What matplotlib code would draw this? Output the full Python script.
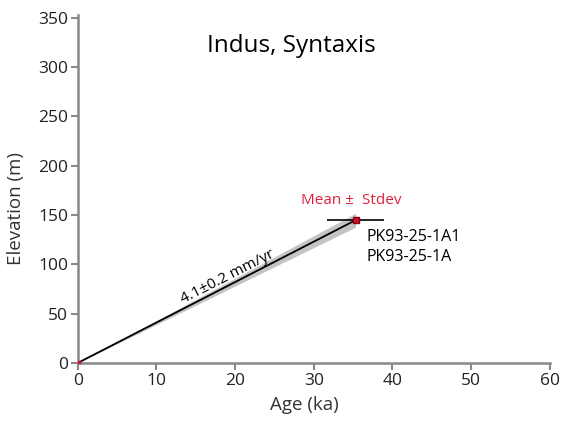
import numpy as np
import matplotlib.pyplot as plt

# mean age / elevation of the terrace sample
mean_age = 35.3
age_std = 3.6
mean_elev = 145.0
rate = 4.1
rate_err = 0.2
samples = ["PK93-25-1A1", "PK93-25-1A"]

plt.rcParams['font.family'] = ['Open Sans', 'DejaVu Sans']

fig = plt.figure(figsize=(5.68, 4.23), dpi=100)
ax = fig.add_axes([0.137, 0.142, 0.831, 0.823])

# uncertainty wedge on the incision rate
ages = np.array([0, mean_age])
ax.fill_between(ages, ages * (rate - rate_err), ages * (rate + rate_err),
                color='#c4c4c4', lw=0, zorder=1)
ax.plot(ages, ages * rate, color='black', lw=1.3, zorder=2)

ax.errorbar([mean_age], [mean_elev], xerr=[age_std], fmt='s', color='black',
            mfc='#d0102a', mec='#8a0010', ms=5, elinewidth=1.2, capsize=0, zorder=3)
ax.plot([0], [0], marker='s', color='#d0102a', ms=3, zorder=3)

ax.text(27.2, 321, "Indus, Syntaxis", fontsize=17.5, ha='center', va='center')
ax.text(34.75, 165, "Mean \u00b1  Stdev", fontsize=11, color='#e0203a',
        ha='center', va='center')
ax.text(36.7, 128, samples[0], fontsize=11.5, ha='left', va='center')
ax.text(36.7, 107, samples[1], fontsize=11.5, ha='left', va='center')
ax.text(19.0, 87, "%.1f\u00b1%.1f mm/yr" % (rate, rate_err), fontsize=11,
        rotation=27, ha='center', va='center', rotation_mode='anchor')

ax.set_xlim(0, 60)
ax.set_ylim(0, 353)
ax.set_xticks(range(0, 61, 10))
ax.set_yticks(range(0, 351, 50))
ax.set_xlabel("Age (ka)", fontsize=13.5, color='#333333')
ax.set_ylabel("Elevation (m)", fontsize=13.5, color='#333333')
ax.xaxis.set_label_coords(0.48, -0.095)
ax.yaxis.set_label_coords(-0.112, 0.445)
for s in ['top', 'right']:
    ax.spines[s].set_visible(False)
for s in ['left', 'bottom']:
    ax.spines[s].set_color('#888888')
    ax.spines[s].set_linewidth(1.8)
ax.tick_params(colors='#888888', labelcolor='#222222', labelsize=12.5,
               width=1.5, length=5, pad=2)

fig.savefig("out.png", dpi=100)
